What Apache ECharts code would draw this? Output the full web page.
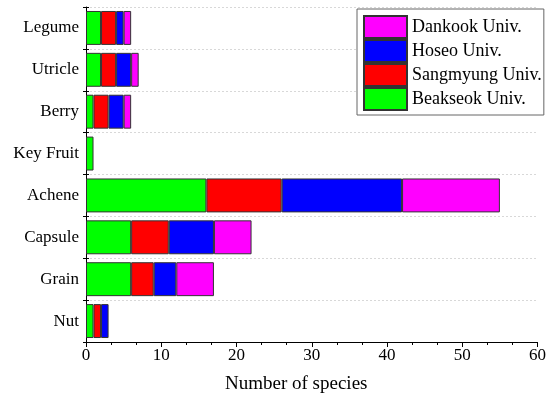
<!DOCTYPE html>
<html>
<head>
<meta charset="utf-8">
<script src="https://cdn.jsdelivr.net/npm/echarts@6/dist/echarts.min.js"></script>
<style>
  html, body { margin: 0; padding: 0; background: #fff; }
  #chart { width: 549px; height: 404px; }
</style>
</head>
<body>
<div id="chart"></div>
<script>
// Fruit types, bottom to top
const fruitTypes = ['Nut', 'Grain', 'Capsule', 'Achene', 'Key Fruit', 'Berry', 'Utricle', 'Legume'];

// Number of species per fruit type at each university
const beakseok  = [1, 6, 6, 16, 1, 1, 2, 2];
const sangmyung = [1, 3, 5, 10, 0, 2, 2, 2];
const hoseo     = [1, 3, 6, 16, 0, 2, 2, 1];
const dankook   = [0, 5, 5, 13, 0, 1, 1, 1];

const xTicks = [0, 10, 20, 30, 40, 50, 60];

const serif = 'Liberation Serif, Times New Roman, serif';

const stacks = [
  { name: 'Beakseok Univ.',  values: beakseok,  color: '#00ff00' },
  { name: 'Sangmyung Univ.', values: sangmyung, color: '#ff0000' },
  { name: 'Hoseo Univ.',     values: hoseo,     color: '#0000ff' },
  { name: 'Dankook Univ.',   values: dankook,   color: '#ff00ff' }
];

const chart = echarts.init(document.getElementById('chart'), null, { renderer: 'canvas' });

chart.setOption({
  animation: false,
  backgroundColor: '#fff',
  grid: { left: 86, right: 8, top: 7, bottom: 62 },
  legend: {
    data: ['Dankook Univ.', 'Hoseo Univ.', 'Sangmyung Univ.', 'Beakseok Univ.'],
    orient: 'vertical',
    left: 357,
    top: 9,
    padding: [6, 2, 4, 6],
    icon: 'rect',
    itemWidth: 43,
    itemHeight: 22,
    itemGap: 0,
    itemTextGap: 4,
    backgroundColor: '#fff',
    borderColor: '#666',
    borderWidth: 1,
    borderRadius: 0,
    textStyle: { fontFamily: serif, fontSize: 18, lineHeight: 20, color: '#000' }
  },
  xAxis: {
    type: 'value',
    min: xTicks[0],
    max: xTicks[xTicks.length - 1],
    interval: 10,
    name: 'Number of species',
    nameLocation: 'middle',
    nameGap: 33,
    nameTextStyle: { fontFamily: serif, fontSize: 19, color: '#000', padding: [0, 31, 0, 0] },
    axisLine: { show: true, lineStyle: { color: '#000', width: 1 } },
    axisTick: { show: true, length: 5, lineStyle: { color: '#000' } },
    minorTick: { show: true, splitNumber: 3, length: 3, lineStyle: { color: '#000' } },
    axisLabel: { fontFamily: serif, fontSize: 17, color: '#000', margin: 5 },
    splitLine: { show: false }
  },
  yAxis: [
    {
      type: 'category',
      data: fruitTypes,
      axisLine: { show: true, lineStyle: { color: '#000', width: 1 } },
      axisTick: { show: true, length: 3, lineStyle: { color: '#000' } },
      axisLabel: { fontFamily: serif, fontSize: 17, color: '#000', margin: 7 },
      splitLine: { show: true, lineStyle: { color: '#d8d8d8', type: [2, 2], width: 1 } }
    },
    {
      // inner half of the crossing category ticks
      type: 'category',
      data: fruitTypes,
      position: 'left',
      axisLine: { show: false },
      axisTick: { show: true, inside: true, length: 3, lineStyle: { color: '#000' } },
      axisLabel: { show: false },
      splitLine: { show: false }
    }
  ],
  series: stacks.map(s => ({
    name: s.name,
    type: 'bar',
    stack: 'total',
    yAxisIndex: 0,
    barCategoryGap: '19%',
    data: s.values.map(v => (v === 0 ? '-' : v)),
    itemStyle: { color: s.color, borderColor: '#333', borderWidth: 1 },
    emphasis: { disabled: true }
  }))
});
</script>
</body>
</html>
